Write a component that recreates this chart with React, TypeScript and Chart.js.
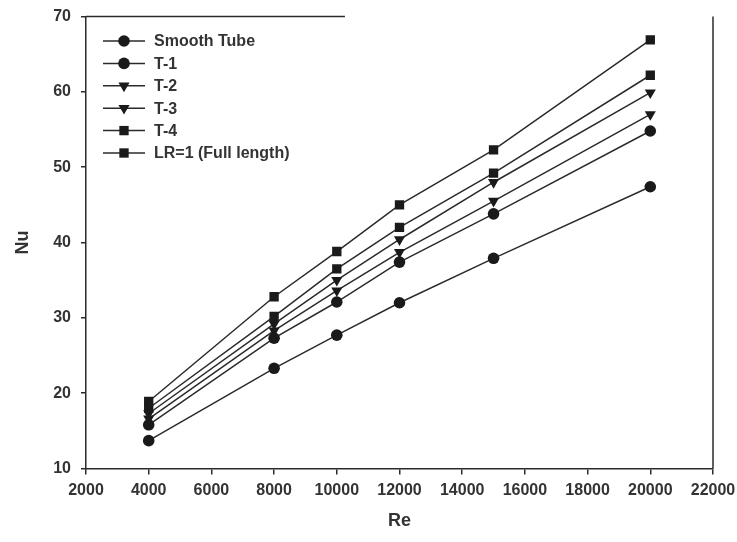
import React, { useEffect, useRef } from "react";
import { Chart, registerables } from "chart.js";
import { drawPoint } from "chart.js/helpers";

Chart.register(...registerables);

const reValues = [4000, 8000, 10000, 12000, 15000, 20000];
const smoothTube = [13.7, 23.3, 27.7, 32.0, 37.9, 47.4];
const t1 = [15.8, 27.3, 32.1, 37.4, 43.8, 54.8];
const t2 = [16.6, 28.3, 33.6, 38.7, 45.5, 57.0];
const t3 = [17.3, 29.2, 35.0, 40.4, 48.0, 59.9];
const t4 = [18.0, 30.2, 36.5, 42.0, 49.2, 62.2];
const lr1 = [18.9, 32.8, 38.8, 45.0, 52.3, 66.9];

const seriesNames = ["Smooth Tube", "T-1", "T-2", "T-3", "T-4", "LR=1 (Full length)"];
const seriesValues = [smoothTube, t1, t2, t3, t4, lr1];
const seriesMarkers = ["circle", "circle", "triangle", "triangle", "rect", "rect"];

const LINE = "#2b2b2b";
const MARK = "#1a1a1a";
const TEXT = "#333333";
const FONT = "'Liberation Sans', Arial, sans-serif";

const markerRadius = (s: string) => (s === "circle" ? 5.8 : s === "triangle" ? 6.4 : 6.6);
const markerRotation = (s: string) => (s === "triangle" ? 180 : 0);

const framePlugin = {
  id: "frame",
  afterDatasetsDraw(chart: any) {
    const { ctx, chartArea } = chart;
    ctx.save();
    ctx.strokeStyle = LINE;
    ctx.lineWidth = 1.5;
    ctx.beginPath();
    ctx.moveTo(chartArea.right, chartArea.top);
    ctx.lineTo(chartArea.right, chartArea.bottom);
    ctx.stroke();
    ctx.beginPath();
    ctx.moveTo(chartArea.left, chartArea.top);
    ctx.lineTo(chartArea.left + (chartArea.right - chartArea.left) * 0.413, chartArea.top);
    ctx.stroke();
    ctx.restore();
  },
};

const legendPlugin = {
  id: "lineLegend",
  afterDatasetsDraw(chart: any) {
    const { ctx, chartArea } = chart;
    const x0 = chartArea.left + 17;
    const x1 = chartArea.left + 59;
    const xm = (x0 + x1) / 2;
    const xt = chartArea.left + 68;
    let y = chartArea.top + 24.5;
    chart.data.datasets.forEach((ds: any) => {
      ctx.save();
      ctx.strokeStyle = LINE;
      ctx.lineWidth = 1.5;
      ctx.beginPath();
      ctx.moveTo(x0, y);
      ctx.lineTo(x1, y);
      ctx.stroke();
      ctx.fillStyle = MARK;
      ctx.strokeStyle = MARK;
      drawPoint(ctx, { pointStyle: ds.pointStyle, radius: ds.pointRadius, rotation: ds.pointRotation, borderWidth: 0 } as any, xm, y);
      ctx.fillStyle = TEXT;
      ctx.font = `bold 16px ${FONT}`;
      ctx.textBaseline = "middle";
      ctx.textAlign = "left";
      ctx.fillText(ds.label, xt, y + 1);
      ctx.restore();
      y += 22.4;
    });
  },
};

export default function App() {
  const canvasRef = useRef<HTMLCanvasElement | null>(null);

  useEffect(() => {
    document.body.style.margin = "0";
    const canvas = canvasRef.current;
    if (!canvas) return;
    const datasets = seriesNames.map((name, i) => ({
      label: name,
      data: reValues.map((x, j) => ({ x, y: seriesValues[i][j] })),
      borderColor: LINE,
      borderWidth: 1.5,
      backgroundColor: MARK,
      pointBackgroundColor: MARK,
      pointBorderColor: MARK,
      pointBorderWidth: 0,
      pointStyle: seriesMarkers[i],
      pointRadius: markerRadius(seriesMarkers[i]),
      pointRotation: markerRotation(seriesMarkers[i]),
      showLine: true,
      tension: 0,
      fill: false,
    }));

    const chart = new Chart(canvas, {
      type: "scatter",
      data: { datasets },
      plugins: [framePlugin, legendPlugin],
      options: {
        animation: false,
        responsive: false,
        maintainAspectRatio: false,
        layout: { padding: { top: 16.5, right: 24, left: 0, bottom: 0 } },
        plugins: { legend: { display: false }, tooltip: { enabled: false } },
        scales: {
          x: {
            type: "linear",
            min: 2000,
            max: 22000,
            ticks: {
              stepSize: 2000,
              color: TEXT,
              padding: 6,
              maxRotation: 0,
              autoSkip: false,
              font: { family: FONT, size: 16, weight: "bold" },
              callback: (v: any) => String(v),
            },
            grid: { display: true, drawOnChartArea: false, drawTicks: true, tickLength: 6, color: LINE, lineWidth: 1.5 },
            border: { display: true, color: LINE, width: 1.5 },
            title: {
              display: true,
              text: "Re",
              color: TEXT,
              font: { family: FONT, size: 18, weight: "bold" },
              padding: { top: 0, bottom: 10 },
            },
            afterFit: (axis: any) => {
              axis.height = 73.5;
              axis.paddingLeft = 0;
              axis.paddingRight = 0;
            },
          },
          y: {
            type: "linear",
            min: 10,
            max: 70,
            ticks: {
              stepSize: 10,
              color: TEXT,
              padding: 10,
              font: { family: FONT, size: 16, weight: "bold" },
            },
            grid: { display: true, drawOnChartArea: false, drawTicks: true, tickLength: 5, color: LINE, lineWidth: 1.5 },
            border: { display: true, color: LINE, width: 1.5 },
            title: {
              display: true,
              text: "Nu",
              color: TEXT,
              font: { family: FONT, size: 18, weight: "bold" },
              padding: { top: 12, bottom: 0 },
            },
            afterFit: (axis: any) => {
              axis.width = 86;
              axis.paddingTop = 0;
              axis.paddingBottom = 0;
            },
          },
        },
      } as any,
    });
    return () => chart.destroy();
  }, []);

  return (
    <div style={{ width: 737, height: 542, background: "#fff" }}>
      <canvas ref={canvasRef} width={737} height={542} style={{ display: "block" }} />
    </div>
  );
}
